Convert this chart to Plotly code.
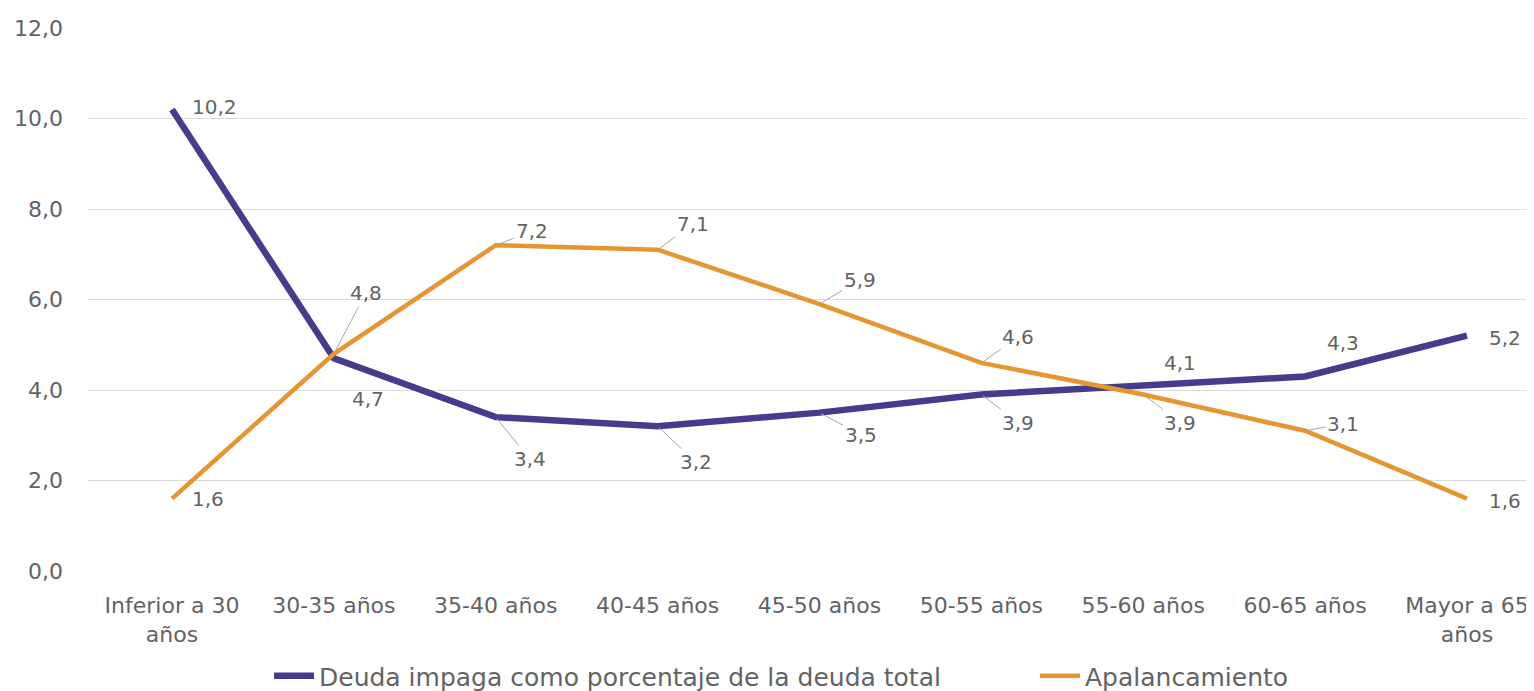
import plotly.graph_objects as go

categories = ["Inferior a 30<br>años", "30-35 años", "35-40 años", "40-45 años", "45-50 años",
              "50-55 años", "55-60 años", "60-65 años", "Mayor a 65<br>años"]
deuda = [10.2, 4.7, 3.4, 3.2, 3.5, 3.9, 4.1, 4.3, 5.2]
apalanc = [1.6, 4.8, 7.2, 7.1, 5.9, 4.6, 3.9, 3.1, 1.6]
y_ticks = [0, 2, 4, 6, 8, 10, 12]

name_deuda = "Deuda impaga como porcentaje de la deuda total"
name_apal = "Apalancamiento"

col_deuda = "#463b8c"
col_apal = "#e6952f"
txt = "#636363"
font_fam = "'DejaVu Sans', sans-serif"

# label offsets (px) and whether a leader line is drawn
off_deuda = [(42, -2, False), (34, 41, False), (34, 42, True), (38, 36, True), (41, 22, True),
             (37, 28, True), (37, -22, False), (38, -33, False), (38, 2, False)]
off_apal = [(36, 0, False), (32, -61, True), (36, -14, True), (35, -26, True), (40, -24, True),
            (37, -26, True), (37, 28, True), (38, -7, True), (38, 2, False)]

xs = list(range(len(categories)))

fig = go.Figure()
fig.add_trace(go.Scatter(x=xs, y=deuda, mode="lines", name=name_deuda,
                         line=dict(color=col_deuda, width=6.5), legend="legend"))
fig.add_trace(go.Scatter(x=xs, y=apalanc, mode="lines", name=name_apal,
                         line=dict(color=col_apal, width=4.5), legend="legend2"))

annotations = []
for vals, offs in ((deuda, off_deuda), (apalanc, off_apal)):
    for i, v in enumerate(vals):
        ax, ay, lead = offs[i]
        annotations.append(dict(
            x=xs[i], y=v, text=f"{v:.1f}".replace(".", ","),
            showarrow=True, arrowhead=0, arrowwidth=1,
            arrowcolor="#a6a6a6" if lead else "rgba(0,0,0,0)",
            ax=ax, ay=ay, font=dict(size=20, color=txt, family=font_fam),
            standoff=2,
        ))

H = 683
leg_common = dict(orientation="h", xanchor="left", yref="container",
                  y=(H - 668) / H, yanchor="middle", xref="container",
                  font=dict(size=25, color=txt), itemwidth=40)

fig.update_layout(
    width=1526, height=H,
    margin=dict(l=80, r=0, t=20, b=120, autoexpand=False),
    paper_bgcolor="white", plot_bgcolor="white",
    separators=",.",
    font=dict(family=font_fam, size=21, color=txt),
    showlegend=True,
    legend=dict(x=261 / 1526, **leg_common),
    legend2=dict(x=1027 / 1526, **leg_common),
    annotations=annotations,
)
fig.update_xaxes(
    tickmode="array", tickvals=xs, ticktext=categories,
    range=[-0.519, 8.414], showgrid=False, zeroline=False, showline=False,
    tickfont=dict(size=22, color=txt), ticklabelstandoff=19, automargin=False,
    ticklabeloverflow="allow",
)
fig.update_yaxes(
    range=[0, 12], tickvals=y_ticks, tickformat=".1f",
    showgrid=True, gridcolor="#d9d9d9", gridwidth=1, zeroline=False,
    tickfont=dict(size=22, color=txt), ticklabelstandoff=24, automargin=False,
)

fig.write_html("out.html")
